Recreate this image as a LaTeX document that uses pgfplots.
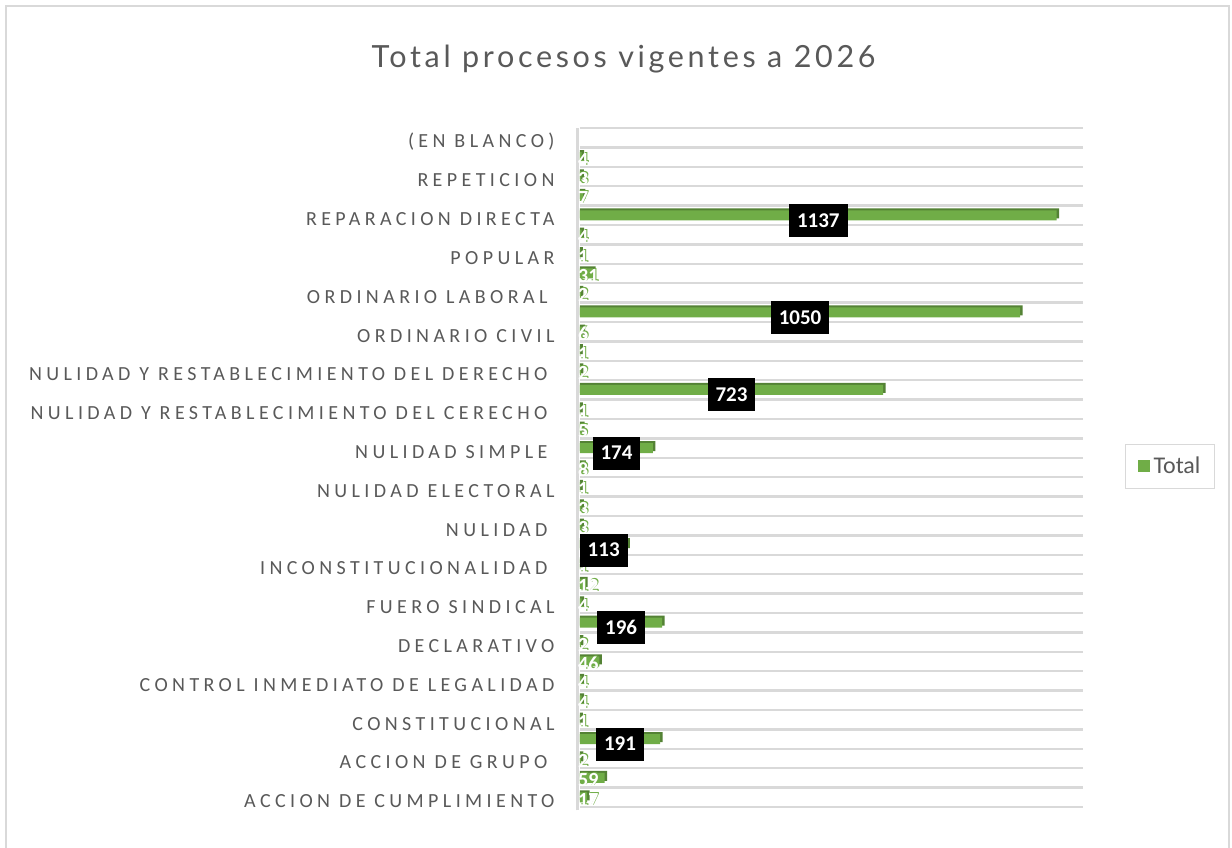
\documentclass[border=0pt]{standalone}
\usepackage{pgfplots}
\pgfplotsset{compat=1.18}
\usepackage{pgfplotstable}
\usepackage{fontspec}
\setmainfont{Carlito}
\newfontfamily\catfont[LetterSpace=22]{Carlito}
\newfontfamily\titlefont[LetterSpace=12]{Lato}
\definecolor{barg}{HTML}{70AD47}
\definecolor{bard}{HTML}{548235}
\definecolor{txtg}{HTML}{595959}
\definecolor{gridg}{HTML}{D9D9D9}
\newcommand\shlabel[1]{\rlap{\kern1pt\raisebox{1pt}{\textcolor{barg}{#1}}}\textcolor{white}{#1}}

\pgfplotstableread{
i v
0 17
1 59
2 2
3 191
4 1
5 4
6 4
7 46
8 2
9 196
10 4
11 12
12 1
13 113
14 3
15 3
16 1
17 8
18 174
19 5
20 1
21 723
22 2
23 1
24 6
25 1050
26 2
27 31
28 1
29 4
30 1137
31 7
32 3
33 4
}\alldata

\pgfplotstableread{
i v
3 191
9 196
13 113
18 174
21 723
25 1050
30 1137
}\bigdata

\pgfplotstableread{
i v
0 17
1 59
2 2
4 1
5 4
6 4
7 46
8 2
10 4
11 12
12 1
14 3
15 3
16 1
17 8
19 5
20 1
22 2
23 1
24 6
26 2
27 31
28 1
29 4
31 7
32 3
33 4
}\smalldata

\begin{document}
\begin{tikzpicture}[x=1pt,y=1pt]
\useasboundingbox (0,0) rectangle (1232,848);
\fill[white] (0,0) rectangle (1232,848);
\draw[gridg, line width=1.5pt] (6,-5) -- (6,842) -- (1229,842) -- (1229,-5);
\node[font=\titlefont\fontsize{30.5}{30.5}\selectfont, text=txtg, anchor=base] at (623.5,780) {Total procesos vigentes a 2026};
\begin{axis}[
  at={(580pt,41pt)}, anchor=south west, scale only axis,
  width=503pt, height=679pt,
  xmin=0, xmax=1200, ymin=-0.5, ymax=34.5,
  clip=false,
  /pgf/number format/.cd, 1000 sep={}, assume math mode=true, /pgfplots/.cd,
  axis line style={draw=none},
  xtick=\empty,
  ytick={0,2,...,34},
  yticklabels={ACCION DE CUMPLIMIENTO, ACCION DE GRUPO\kern7pt, CONSTITUCIONAL, CONTROL INMEDIATO DE LEGALIDAD, DECLARATIVO, FUERO SINDICAL, INCONSTITUCIONALIDAD\kern7pt, NULIDAD\kern7pt, NULIDAD ELECTORAL, NULIDAD SIMPLE\kern7pt, NULIDAD Y RESTABLECIMIENTO DEL CERECHO\kern7pt, NULIDAD Y RESTABLECIMIENTO DEL DERECHO\kern7pt, ORDINARIO CIVIL, ORDINARIO LABORAL\kern7pt, POPULAR, REPARACION DIRECTA, REPETICION, (EN BLANCO)},
  yticklabel style={font=\catfont\fontsize{20}{20}\selectfont, text=txtg, anchor=east, yshift=-4pt, xshift=-22pt},
  minor ytick={-0.5,0.5,...,34.5},
  yminorgrids,
  minor grid style={draw=gridg, line width=2.5pt},
  major tick length=0pt, minor tick length=0pt,
  legend style={at={(1.173,0.502)}, anchor=center, draw=gridg, line width=1pt, font=\fontsize{24}{24}\selectfont, text=txtg, inner xsep=12pt, inner ysep=11pt},
  legend image code/.code={\fill[barg] (0pt,-6pt) rectangle (12pt,6pt);},
]
\addplot[xbar, bar width=10pt, bar shift=2pt, fill=bard, draw=none, forget plot] table[x expr=\thisrow{v}+6, y=i]{\alldata};
\addplot[xbar, bar width=10pt, bar shift=0pt, fill=barg, draw=none] table[x=v, y=i]{\alldata};
\addlegendentry{\hspace{2pt}Total}
\addplot[draw=none, mark=none, forget plot, nodes near coords={\shlabel{\pgfmathprintnumber{\pgfplotspointmeta}}}, point meta=explicit,
  every node near coord/.style={anchor=west, inner sep=0pt, font=\bfseries\fontsize{20}{20}\selectfont, yshift=-2pt, xshift=-2pt}]
  table[x expr=0, y=i, meta=v]{\smalldata};
\addplot[draw=none, mark=none, forget plot, nodes near coords, point meta=explicit,
  every node near coord/.style={fill=black, text=white, font=\bfseries\fontsize{21}{21}\selectfont, anchor=center, yshift=-5pt, inner xsep=8pt, minimum height=33pt}]
  table[x expr=\thisrow{v}/2, y=i, meta=v]{\bigdata};
\draw[gridg, line width=3pt] ([xshift=-2pt]rel axis cs:0,-0.005) -- ([xshift=-2pt]rel axis cs:0,1);
\end{axis}
\end{tikzpicture}
\end{document}
